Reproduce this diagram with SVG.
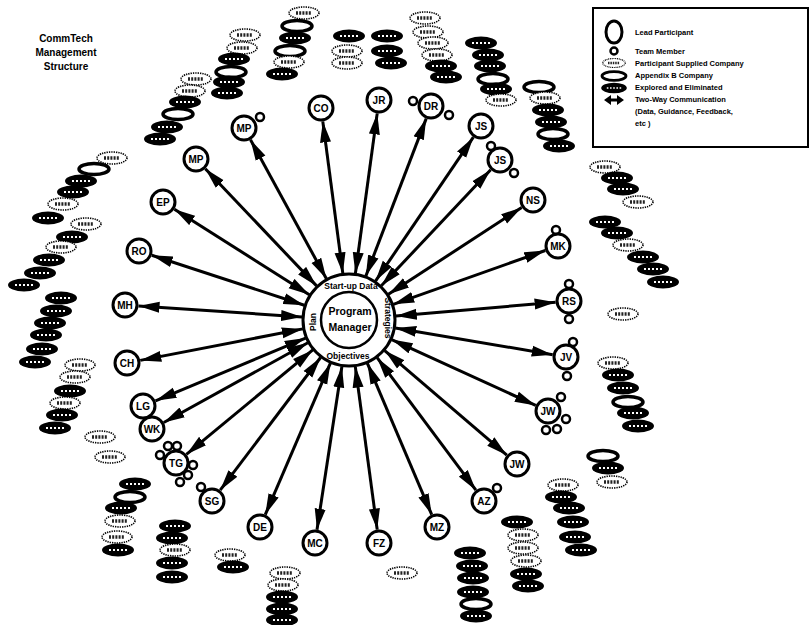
<svg xmlns="http://www.w3.org/2000/svg" width="812" height="625" viewBox="0 0 812 625">
<style>
text{font-family:"Liberation Sans",Arial,sans-serif;font-weight:bold;fill:#000}
.lbl{font-size:10px;text-anchor:middle}
.lead{fill:#fff;stroke:#000;stroke-width:3}
.tm{fill:#fff;stroke:#000;stroke-width:2.5}
.ln{stroke:#000;stroke-width:3;fill:none;marker-start:url(#ah);marker-end:url(#ah)}
.leg{font-size:7.5px}
.ttl{font-size:10px;text-anchor:middle}
.ring{font-size:8.5px;text-anchor:middle}
.pm{font-size:10.5px;text-anchor:middle}
</style>
<defs>
<marker id="ah" markerUnits="userSpaceOnUse" markerWidth="22" markerHeight="12" refX="21" refY="6" orient="auto-start-reverse">
<path d="M0,0.5 L21,6 L0,11.5 z" fill="#000"/>
</marker>
<g id="eP"><ellipse rx="15" ry="6" fill="#fff" stroke="#000" stroke-width="1.6" stroke-dasharray="1.3 1"/><line x1="-8" y1="0" x2="8" y2="0" stroke="#222" stroke-width="3.5" stroke-dasharray="2 1.2"/></g>
<g id="eA"><ellipse rx="15" ry="5.5" fill="#fff" stroke="#000" stroke-width="3.5"/></g>
<g id="eE"><ellipse rx="16" ry="6.5" fill="#000"/><line x1="-9" y1="0" x2="9" y2="0" stroke="#fff" stroke-width="2" stroke-dasharray="2 2"/></g>
</defs>
<rect width="812" height="625" fill="#fff"/>

<g id="title">
<text class="ttl" x="66" y="42">CommTech</text>
<text class="ttl" x="66" y="56">Management</text>
<text class="ttl" x="66" y="70">Structure</text>
</g>

<g id="legend">
<rect x="593" y="8" width="215" height="139" fill="#fff" stroke="#000" stroke-width="2"/>
<ellipse cx="614" cy="32" rx="8" ry="11" class="lead"/>
<circle cx="614" cy="51" r="3.5" class="tm"/>
<use href="#eP" transform="translate(614,63) scale(0.75)"/>
<use href="#eA" transform="translate(614,76) scale(0.8)"/>
<use href="#eE" transform="translate(614,88) scale(0.8)"/>
<path d="M604,100 L611,95 L611,98.5 L617,98.5 L617,95 L624,100 L617,105 L617,101.5 L611,101.5 L611,105 z" fill="#000"/>
<text class="leg" x="635" y="35">Lead Participant</text>
<text class="leg" x="635" y="54">Team Member</text>
<text class="leg" x="635" y="66">Participant Supplied Company</text>
<text class="leg" x="635" y="78">Appendix B Company</text>
<text class="leg" x="635" y="90">Explored and Eliminated</text>
<text class="leg" x="635" y="102">Two-Way Communication</text>
<text class="leg" x="635" y="114">(Data, Guidance, Feedback,</text>
<text class="leg" x="635" y="126">etc )</text>
</g>

<g id="companies">
<use href="#eP" x="304" y="13"/><use href="#eA" x="297" y="26"/><use href="#eE" x="295" y="38"/><use href="#eA" x="290" y="51"/><use href="#eP" x="289" y="62"/><use href="#eE" x="282" y="74"/>
<use href="#eP" x="245" y="35"/><use href="#eP" x="242" y="48"/><use href="#eE" x="234" y="59"/><use href="#eA" x="231" y="72"/><use href="#eE" x="229" y="82"/><use href="#eE" x="227" y="93"/>
<use href="#eE" x="349" y="36"/><use href="#eE" x="387" y="36"/><use href="#eP" x="347" y="51"/><use href="#eE" x="387" y="51"/><use href="#eP" x="347" y="63"/><use href="#eE" x="391" y="63"/>
<use href="#eP" x="425" y="18"/><use href="#eP" x="428" y="32"/><use href="#eP" x="433" y="43"/><use href="#eP" x="437" y="55"/><use href="#eE" x="441" y="66"/><use href="#eE" x="446" y="77"/>
<use href="#eE" x="481" y="43"/><use href="#eE" x="488" y="55"/><use href="#eE" x="490" y="66"/><use href="#eA" x="493" y="79"/><use href="#eE" x="496" y="89"/><use href="#eP" x="501" y="100"/>
<use href="#eA" x="539" y="87"/><use href="#eP" x="545" y="98"/><use href="#eE" x="548" y="110"/><use href="#eE" x="551" y="122"/><use href="#eA" x="553" y="134"/><use href="#eE" x="559" y="146"/>
<use href="#eP" x="196" y="79"/><use href="#eP" x="190" y="91"/><use href="#eE" x="185" y="102"/><use href="#eA" x="178" y="114"/><use href="#eE" x="167" y="127"/><use href="#eE" x="160" y="139"/>
<use href="#eP" x="112" y="158"/><use href="#eA" x="94" y="169"/><use href="#eE" x="81" y="181"/><use href="#eE" x="73" y="192"/><use href="#eP" x="63" y="204"/><use href="#eE" x="48" y="218"/><use href="#eP" x="86" y="224"/><use href="#eE" x="72" y="237"/><use href="#eP" x="61" y="247"/><use href="#eE" x="49" y="260"/><use href="#eE" x="40" y="273"/><use href="#eE" x="24" y="285"/><use href="#eE" x="61" y="298"/><use href="#eE" x="56" y="311"/>
<use href="#eE" x="50" y="323"/><use href="#eE" x="46" y="335"/><use href="#eE" x="42" y="349"/><use href="#eE" x="35" y="362"/>
<use href="#eP" x="80" y="365"/><use href="#eP" x="75" y="377"/><use href="#eE" x="70" y="391"/><use href="#eP" x="65" y="403"/><use href="#eE" x="62" y="415"/><use href="#eE" x="55" y="428"/><use href="#eP" x="100" y="437"/><use href="#eP" x="110" y="457"/>
<use href="#eE" x="135" y="484"/><use href="#eA" x="130" y="497"/><use href="#eE" x="121" y="508"/><use href="#eP" x="120" y="521"/><use href="#eP" x="117" y="537"/><use href="#eE" x="118" y="550"/>
<use href="#eE" x="175" y="526"/><use href="#eE" x="172" y="538"/><use href="#eP" x="175" y="550"/><use href="#eE" x="172" y="563"/><use href="#eE" x="172" y="577"/>
<use href="#eP" x="230" y="555"/><use href="#eE" x="233" y="567"/>
<use href="#eP" x="285" y="573"/><use href="#eP" x="283" y="585"/><use href="#eE" x="282" y="597"/><use href="#eE" x="282" y="609"/><use href="#eE" x="282" y="620"/>
<use href="#eP" x="402" y="573"/>
<use href="#eE" x="470" y="553"/><use href="#eE" x="472" y="566"/><use href="#eE" x="473" y="578"/><use href="#eE" x="473" y="592"/><use href="#eA" x="476" y="604"/><use href="#eE" x="476" y="616"/>
<use href="#eE" x="517" y="522"/><use href="#eP" x="523" y="535"/><use href="#eP" x="523" y="548"/><use href="#eP" x="526" y="561"/><use href="#eE" x="526" y="574"/><use href="#eE" x="528" y="586"/>
<use href="#eP" x="563" y="485"/><use href="#eE" x="561" y="497"/><use href="#eE" x="569" y="508"/><use href="#eE" x="573" y="522"/><use href="#eE" x="575" y="537"/><use href="#eE" x="581" y="550"/>
<use href="#eA" x="603" y="456"/><use href="#eE" x="608" y="468"/><use href="#eP" x="612" y="482"/>
<use href="#eP" x="613" y="363"/><use href="#eE" x="618" y="375"/><use href="#eE" x="623" y="388"/><use href="#eA" x="628" y="402"/><use href="#eE" x="633" y="413"/><use href="#eE" x="638" y="426"/>
<use href="#eP" x="623" y="314"/>
<use href="#eP" x="605" y="167"/><use href="#eE" x="617" y="178"/><use href="#eE" x="623" y="189"/><use href="#eP" x="638" y="202"/><use href="#eE" x="605" y="222"/><use href="#eE" x="617" y="233"/><use href="#eP" x="628" y="245"/><use href="#eE" x="643" y="257"/><use href="#eE" x="653" y="269"/><use href="#eE" x="663" y="282"/>
</g>

<g id="connectors">
<line class="ln" x1="322.8" y1="121.4" x2="342.8" y2="273.4"/>
<line class="ln" x1="377.2" y1="113.4" x2="355.4" y2="273.4"/>
<line class="ln" x1="426.2" y1="118.6" x2="365.8" y2="276.1"/>
<line class="ln" x1="473.4" y1="137.2" x2="375.5" y2="281.1"/>
<line class="ln" x1="490.7" y1="169.8" x2="381.3" y2="285.8"/>
<line class="ln" x1="521.7" y1="207.4" x2="388.4" y2="294.3"/>
<line class="ln" x1="545.3" y1="250.5" x2="393.3" y2="304.3"/>
<line class="ln" x1="555.6" y1="302.2" x2="395.8" y2="316.0"/>
<line class="ln" x1="552.7" y1="354.7" x2="395.3" y2="327.9"/>
<line class="ln" x1="535.7" y1="405.4" x2="391.7" y2="339.6"/>
<line class="ln" x1="506.8" y1="455.2" x2="384.7" y2="350.6"/>
<line class="ln" x1="475.9" y1="490.2" x2="377.1" y2="357.7"/>
<line class="ln" x1="431.7" y1="514.6" x2="367.4" y2="363.3"/>
<line class="ln" x1="377.2" y1="529.6" x2="355.3" y2="366.6"/>
<line class="ln" x1="317.0" y1="529.7" x2="341.9" y2="366.5"/>
<line class="ln" x1="265.3" y1="514.6" x2="330.4" y2="363.2"/>
<line class="ln" x1="220.2" y1="490.2" x2="320.6" y2="357.5"/>
<line class="ln" x1="186.4" y1="454.4" x2="312.8" y2="349.9"/>
<line class="ln" x1="163.8" y1="422.5" x2="307.9" y2="342.8"/>
<line class="ln" x1="155.5" y1="400.8" x2="305.6" y2="338.1"/>
<line class="ln" x1="140.3" y1="360.4" x2="302.8" y2="328.9"/>
<line class="ln" x1="138.5" y1="305.9" x2="302.1" y2="316.9"/>
<line class="ln" x1="151.8" y1="255.2" x2="304.3" y2="305.3"/>
<line class="ln" x1="174.4" y1="209.2" x2="309.3" y2="294.8"/>
<line class="ln" x1="205.3" y1="168.8" x2="316.6" y2="285.9"/>
<line class="ln" x1="250.5" y1="139.8" x2="326.4" y2="278.8"/>
</g>

<g id="pm">
<circle cx="349" cy="320" r="46" class="lead"/>
<circle cx="349" cy="320" r="28" fill="#fff" stroke="#000" stroke-width="2.5"/>
<text class="ring" x="351" y="289">Start-up Data</text>
<text class="ring" x="348" y="359">Objectives</text>
<text class="ring" transform="translate(316,322) rotate(-90)">Plan</text>
<text class="ring" transform="translate(385,318) rotate(90)">Strategies</text>
<text class="pm" x="350" y="315">Program</text>
<text class="pm" x="350" y="331">Manager</text>
</g>

<g id="n-co"><circle cx="321" cy="108" r="12" class="lead"/><text class="lbl" x="321" y="112">CO</text></g>
<g id="n-jr"><circle cx="379" cy="100" r="12" class="lead"/><text class="lbl" x="379" y="104">JR</text></g>
<g id="n-dr"><circle cx="413" cy="101" r="4" class="tm"/><circle cx="449" cy="115" r="4" class="tm"/><circle cx="431" cy="106" r="12" class="lead"/><text class="lbl" x="431" y="110">DR</text></g>
<g id="n-js1"><circle cx="481" cy="126" r="12" class="lead"/><text class="lbl" x="481" y="130">JS</text></g>
<g id="n-js2"><circle cx="491" cy="146" r="4" class="tm"/><circle cx="514" cy="173" r="4" class="tm"/><circle cx="500" cy="160" r="12" class="lead"/><text class="lbl" x="500" y="164">JS</text></g>
<g id="n-ns"><circle cx="533" cy="200" r="12" class="lead"/><text class="lbl" x="533" y="204">NS</text></g>
<g id="n-mk"><circle cx="556" cy="230" r="4" class="tm"/><circle cx="558" cy="246" r="12" class="lead"/><text class="lbl" x="558" y="250">MK</text></g>
<g id="n-rs"><circle cx="569" cy="284" r="4" class="tm"/><circle cx="569" cy="319" r="4" class="tm"/><circle cx="569" cy="301" r="12" class="lead"/><text class="lbl" x="569" y="305">RS</text></g>
<g id="n-jv"><circle cx="573" cy="342" r="4" class="tm"/><circle cx="567" cy="376" r="4" class="tm"/><circle cx="566" cy="357" r="12" class="lead"/><text class="lbl" x="566" y="361">JV</text></g>
<g id="n-jw1"><circle cx="561" cy="397" r="4" class="tm"/><circle cx="566" cy="419" r="4" class="tm"/><circle cx="557" cy="429" r="4" class="tm"/><circle cx="546" cy="430" r="4" class="tm"/><circle cx="548" cy="411" r="12" class="lead"/><text class="lbl" x="548" y="415">JW</text></g>
<g id="n-jw2"><circle cx="517" cy="464" r="12" class="lead"/><text class="lbl" x="517" y="468">JW</text></g>
<g id="n-az"><circle cx="497" cy="488" r="4" class="tm"/><circle cx="484" cy="501" r="12" class="lead"/><text class="lbl" x="484" y="505">AZ</text></g>
<g id="n-mz"><circle cx="437" cy="527" r="12" class="lead"/><text class="lbl" x="437" y="531">MZ</text></g>
<g id="n-fz"><circle cx="379" cy="543" r="12" class="lead"/><text class="lbl" x="379" y="547">FZ</text></g>
<g id="n-mc"><circle cx="315" cy="543" r="12" class="lead"/><text class="lbl" x="315" y="547">MC</text></g>
<g id="n-de"><circle cx="260" cy="527" r="12" class="lead"/><text class="lbl" x="260" y="531">DE</text></g>
<g id="n-sg"><circle cx="201" cy="487" r="4" class="tm"/><circle cx="212" cy="501" r="12" class="lead"/><text class="lbl" x="212" y="505">SG</text></g>
<g id="n-tg"><circle cx="168" cy="446" r="4" class="tm"/><circle cx="177" cy="446" r="4" class="tm"/><circle cx="160" cy="455" r="4" class="tm"/><circle cx="193" cy="465" r="4" class="tm"/><circle cx="188" cy="475" r="4" class="tm"/><circle cx="180" cy="482" r="4" class="tm"/><circle cx="176" cy="463" r="12" class="lead"/><text class="lbl" x="176" y="467">TG</text></g>
<g id="n-lg"><circle cx="143" cy="406" r="12" class="lead"/><text class="lbl" x="143" y="410">LG</text></g>
<g id="n-wk"><circle cx="152" cy="429" r="12" class="lead"/><text class="lbl" x="152" y="433">WK</text></g>
<g id="n-ch"><circle cx="127" cy="363" r="12" class="lead"/><text class="lbl" x="127" y="367">CH</text></g>
<g id="n-mh"><circle cx="125" cy="305" r="12" class="lead"/><text class="lbl" x="125" y="309">MH</text></g>
<g id="n-ro"><circle cx="139" cy="251" r="12" class="lead"/><text class="lbl" x="139" y="255">RO</text></g>
<g id="n-ep"><circle cx="163" cy="202" r="12" class="lead"/><text class="lbl" x="163" y="206">EP</text></g>
<g id="n-mp1"><circle cx="196" cy="159" r="12" class="lead"/><text class="lbl" x="196" y="163">MP</text></g>
<g id="n-mp2"><circle cx="260" cy="117" r="4" class="tm"/><circle cx="244" cy="128" r="12" class="lead"/><text class="lbl" x="244" y="132">MP</text></g>
</svg>
